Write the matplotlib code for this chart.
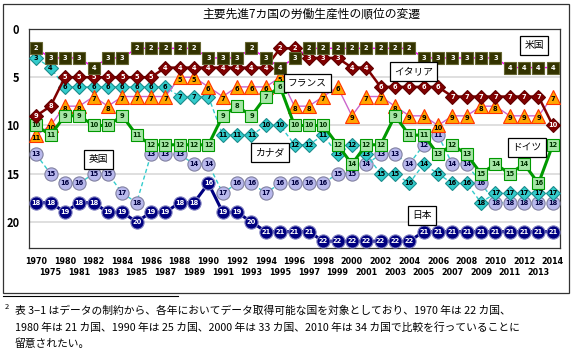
import matplotlib
matplotlib.use('Agg')
import matplotlib.pyplot as plt
from matplotlib.patches import Rectangle
from matplotlib.lines import Line2D

plt.rcParams['font.family'] = ['Noto Sans CJK JP', 'DejaVu Sans']

# x categories
years = ['1970', '1975'] + [str(y) for y in range(1980, 2015)]

# ranks
usa = [2, 3, 3, 3, 4, 3, 3, 2, 2, 2, 2, 2,
       3, 3, 3, 2, 3, 4, 3, 2, 2, 2, 2, 2, 2,
       2, 2, 3, 3, 3, 3, 3, 3, 4, 4, 4, 4]
italy = [9, 8, 5, 5, 5, 5, 5, 5, 5, 4, 4, 4,
         4, 4, 4, 4, 4, 2, 2, 3, 3, 3, 4, 4, 6,
         6, 6, 6, 6, 7, 7, 7, 7, 7, 7, 7, 10]
france = [11, 10, 8, 8, 7, 8, 7, 7, 7, 7, 5, 5,
          6, 7, 6, 6, 6, 5, 8, 8, 7, 6, 9, 7, 7,
          8, 9, 9, 10, 9, 9, 8, 8, 9, 9, 9, 7]
germany = [10, 11, 9, 9, 10, 10, 9, 11, 12, 12, 12, 12,
           12, 9, 8, 9, 7, 6, 10, 10, 10, 12, 14, 12, 12,
           9, 11, 11, 13, 12, 13, 15, 14, 15, 14, 16, 12]
canada = [3, 4, 6, 6, 6, 6, 6, 6, 6, 6, 7, 7,
          7, 11, 11, 11, 10, 10, 12, 12, 11, 13, 12, 13, 15,
          15, 16, 14, 15, 16, 16, 18, 17, 17, 17, 17, 17]
uk = [13, 15, 16, 16, 15, 15, 17, 18, 13, 13, 13, 14,
      14, 17, 16, 16, 17, 16, 16, 16, 16, 15, 15, 14, 13,
      13, 14, 12, 11, 14, 14, 16, 18, 18, 18, 18, 18]
japan = [18, 18, 19, 18, 18, 19, 19, 20, 19, 19, 18, 18,
         16, 19, 19, 20, 21, 21, 21, 21, 22, 22, 22, 22, 22,
         22, 22, 21, 21, 21, 21, 21, 21, 21, 21, 21, 21]

x = list(range(len(years)))

fig = plt.figure(figsize=(5.73, 3.51), dpi=100)
# outer frame of the chart
fig.patches.append(Rectangle((3 / 573, 1 - 293 / 351), 566 / 573, 289 / 351,
                             transform=fig.transFigure, fill=False,
                             ec='#333333', lw=0.9))
ax = fig.add_axes([29 / 573, 1 - 248 / 351, 531 / 573, 219 / 351])

ax.set_xlim(-0.5, 36.5)
ax.set_ylim(22.7, 0)
ax.set_yticks([0, 5, 10, 15, 20])
ax.set_yticklabels(['0', '5', '10', '15', '20'], fontsize=8, fontweight='bold')
for g in [5, 10, 15, 20]:
    ax.axhline(g, color='#d9d9d9', lw=1.2, zorder=0)
ax.set_xticks(x)
ax.set_xticklabels([])
ax.tick_params(length=0, pad=7)
for s in ax.spines.values():
    s.set_linewidth(0.9)
    s.set_color('#333333')

# two rows of year labels
for i, yr in enumerate(years):
    yy = -0.06 if i % 2 == 0 else -0.11
    ax.text(i, yy, yr, transform=ax.get_xaxis_transform(), ha='center',
            va='center', fontsize=5.8, fontweight='bold', family='DejaVu Sans')

# (values, line colour, line width, line style, marker, size, face, edge, text colour)
series = [
    (uk, '#33cccc', 1.0, (0, (3, 2)), 'o', 9.5, '#b8b8ec', '#8080a0', '#000040'),
    (canada, '#33cccc', 1.0, (0, (3, 2)), 'D', 7.0, '#33cccc', '#1a8c8c', '#000000'),
    (france, '#cc66cc', 1.0, '-', '^', 10.5, '#ffa500', '#ff3300', '#000000'),
    (germany, '#009900', 2.2, '-', 's', 8.5, '#a6e6a6', '#009900', '#003300'),
    (italy, '#800000', 1.8, '-', 'D', 7.0, '#800000', '#600000', '#ffffff'),
    (usa, '#ff00ff', 1.0, '-', 's', 8.5, '#333300', '#666633', '#ffffff'),
    (japan, '#000080', 2.2, '-', 'o', 9.5, '#000080', '#8080c0', '#ffffff'),
]
z = 2
for vals, lc, lw, ls, mk, ms, fc, ec, tc in series:
    ax.plot(x, vals, color=lc, lw=lw, ls=ls, zorder=z)
    ax.plot(x, vals, ls='none', marker=mk, ms=ms, mfc=fc, mec=ec, mew=0.8,
            zorder=z + 1)
    for xi, v in zip(x, vals):
        dy = 0.25 if mk == '^' else 0
        ax.text(xi, v + dy, str(v), ha='center', va='center', fontsize=4.8,
                fontweight='bold', color=tc, zorder=z + 2,
                family='DejaVu Sans')
    z += 3

labels = [('米国', 34.7, 1.7), ('イタリア', 26.3, 4.4), ('フランス', 18.9, 5.6),
          ('カナダ', 16.3, 12.8), ('英国', 4.35, 13.5), ('ドイツ', 34.2, 12.3),
          ('日本', 26.9, 19.3)]
for name, lx, ly in labels:
    ax.text(lx, ly, name, ha='center', va='center', fontsize=7, zorder=40,
            bbox=dict(boxstyle='square,pad=0.45', fc='white', ec='black', lw=0.9))

fig.text(311 / 573, 1 - 14 / 351, '主要先進7カ国の労働生産性の順位の変遷',
         ha='center', va='center', fontsize=8.5)

# footnote
fig.add_artist(Line2D([3 / 573, 178 / 573], [1 - 296 / 351, 1 - 296 / 351],
                      transform=fig.transFigure, color='black', lw=0.8))
fig.text(5 / 573, 1 - 307 / 351, '2', fontsize=5.5, va='center')
notes = ['表 3−1 はデータの制約から、各年においてデータ取得可能な国を対象としており、1970 年は 22 カ国、',
         '1980 年は 21 カ国、1990 年は 25 カ国、2000 年は 33 カ国、2010 年は 34 カ国で比較を行っていることに',
         '留意されたい。']
for k, line in enumerate(notes):
    fig.text(15 / 573, 1 - (311 + 16.5 * k) / 351, line, fontsize=7.75,
             va='center', ha='left')

fig.savefig('out.png', dpi=100)
